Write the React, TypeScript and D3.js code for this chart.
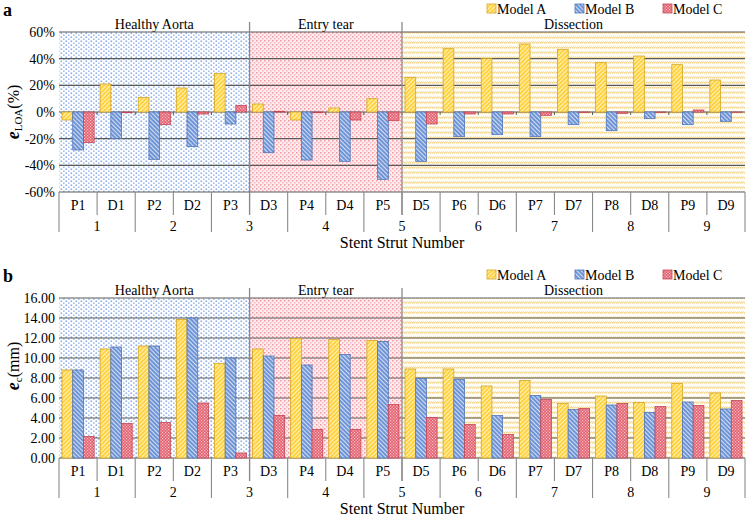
import * as d3 from "d3";

// stent struts, pairs belong to one stent number
const categories = ["P1", "D1", "P2", "D2", "P3", "D3", "P4", "D4", "P5", "D5", "P6", "D6", "P7", "D7", "P8", "D8", "P9", "D9"];
const groupLabels = ["1", "2", "3", "4", "5", "6", "7", "8", "9"];
const sectionNames = ["Healthy Aorta", "Entry tear", "Dissection"];
const sectionSizes = [5, 4, 9];
const modelNames = ["Model A", "Model B", "Model C"];

// panel a : e_LOA (%)
const loaA = [-6, 21, 11, 18, 29, 6, -6, 3, 10, 26, 47.5, 40, 51, 47, 37, 42, 35.5, 24];
const loaB = [-28.5, -20, -35.5, -26, -9, -30.5, -36, -37, -50.5, -37, -18.5, -17, -18.5, -9.5, -14, -5, -9.5, -7];
const loaC = [-23, -0.5, -9.5, -1.5, 5, 0.5, -0.5, -6, -6.5, -9, -1.5, -1.5, -2.5, -0.3, -1, -0.3, 1.5, -0.2];
const loaTicks = [-60, -40, -20, 0, 20, 40, 60];

// panel b : e_c (mm)
const ecA = [8.8, 10.9, 11.2, 13.85, 9.45, 10.9, 11.95, 11.85, 11.75, 8.9, 8.9, 7.2, 7.75, 5.45, 6.2, 5.55, 7.45, 6.5];
const ecB = [8.8, 11.1, 11.2, 14.0, 10.0, 10.2, 9.3, 10.35, 11.65, 7.95, 7.85, 4.25, 6.25, 4.85, 5.3, 4.55, 5.6, 4.9];
const ecC = [2.15, 3.45, 3.55, 5.5, 0.5, 4.25, 2.85, 2.85, 5.35, 4.05, 3.35, 2.35, 5.85, 4.95, 5.45, 5.15, 5.25, 5.75];
const ecTicks = [0, 2, 4, 6, 8, 10, 12, 14, 16];

const FONT = "Liberation Serif, Times New Roman, serif";
const LEFT = 59;
const RIGHT = 745;
const barFills = ["url(#barA)", "url(#barB)", "url(#barC)"];
const barStrokes = ["#d4a623", "#5075b8", "#c44656"];
const sectionFills = ["url(#bgBlue)", "url(#bgPink)", "url(#bgYellow)"];
const legendX = [487, 575, 663];

type PanelProps = {
  top: number;
  series: number[][];
  ticks: number[];
  fmt: (v: number) => string;
  letter: string;
  labelSub: string;
  labelUnit: string;
  labelY: number;
};

function Panel({ top, series, ticks, fmt, letter, labelSub, labelUnit, labelY }: PanelProps) {
  const bottom = top + 160;
  const x = d3.scaleBand<string>().domain(categories).range([LEFT, RIGHT]);
  const step = x.step();
  const inner = d3.scaleBand<string>().domain(modelNames).range([0, x.bandwidth()]).paddingOuter(0.28);
  const y = d3.scaleLinear().domain(d3.extent(ticks) as [number, number]).range([bottom, top]);
  const zero = y(Math.max(0, ticks[0]));

  // section start indices
  const starts = sectionSizes.map((_, i) => d3.sum(sectionSizes.slice(0, i)));

  return (
    <g fontFamily={FONT}>
      <text x={3} y={top - 16} fontSize={18} fontWeight="bold">{letter}</text>

      {/* section backgrounds */}
      {sectionNames.map((name, i) => {
        const x0 = x(categories[starts[i]])!;
        const w = sectionSizes[i] * step;
        return (
          <g key={name}>
            <rect x={x0} y={top} width={w} height={bottom - top} fill={sectionFills[i]} />
            <text x={x0 + w / 2} y={top - 3} textAnchor="middle" fontSize={14}>{name}</text>
          </g>
        );
      })}

      {/* grid */}
      {ticks.map((t) => (
        <g key={t}>
          <line x1={LEFT} x2={RIGHT} y1={y(t)} y2={y(t)} stroke="#5a5a5a" strokeWidth={1.1} />
          <text x={55} y={y(t) + 5} textAnchor="end" fontSize={14}>{fmt(t)}</text>
        </g>
      ))}

      {/* small ticks on zero line */}
      {zero < bottom && categories.map((c, i) => (i > 0 ? (
        <line key={c} x1={x(c)} x2={x(c)} y1={zero} y2={zero + 3} stroke="#5a5a5a" />
      ) : null))}

      {/* bars */}
      {series.map((vals, s) => (
        <g key={s}>
          {vals.map((v, i) => (
            <rect
              key={i}
              x={x(categories[i])! + inner(modelNames[s])!}
              y={Math.min(y(v), zero)}
              width={inner.bandwidth()}
              height={Math.abs(y(v) - zero)}
              fill={barFills[s]}
              stroke={barStrokes[s]}
              strokeWidth={0.8}
            />
          ))}
        </g>
      ))}

      {/* section dividers */}
      {starts.slice(1).map((st) => (
        <line key={st} x1={x(categories[st])} x2={x(categories[st])} y1={top - 10} y2={bottom + 23} stroke="#8a8a8a" strokeWidth={1.3} />
      ))}

      {/* multi level category axis */}
      {d3.range(categories.length + 1).map((i) => {
        const bx = LEFT + i * step;
        return <line key={i} x1={bx} x2={bx} y1={bottom} y2={bottom + (i % 2 === 0 ? 40 : 23)} stroke="#8a8a8a" strokeWidth={1.1} />;
      })}
      {categories.map((c) => (
        <text key={c} x={x(c)! + step / 2} y={bottom + 18} textAnchor="middle" fontSize={14}>{c}</text>
      ))}
      {groupLabels.map((g, i) => (
        <text key={g} x={LEFT + (2 * i + 1) * step} y={bottom + 39} textAnchor="middle" fontSize={14}>{g}</text>
      ))}
      <text x={402} y={bottom + 56} textAnchor="middle" fontSize={16}>Stent Strut Number</text>

      {/* y label */}
      <text transform={`translate(19,${labelY}) rotate(-90)`} textAnchor="middle" fontSize={16}>
        <tspan fontWeight="bold" fontStyle="italic" fontSize={18}>e</tspan>
        <tspan fontSize={11} dy={3}>{labelSub}</tspan>
        <tspan dy={-3}>{labelUnit}</tspan>
      </text>

      {/* legend */}
      {modelNames.map((m, i) => (
        <g key={m}>
          <rect x={legendX[i]} y={top - 28} width={9} height={9} fill={barFills[i]} stroke={barStrokes[i]} strokeWidth={0.8} />
          <text x={legendX[i] + 10} y={top - 18} fontSize={14}>{m}</text>
        </g>
      ))}
    </g>
  );
}

export default function App() {
  return (
    <svg width={749} height={516} style={{ position: "absolute", left: 0, top: 0, background: "#fff" }}>
      <defs>
        <pattern id="bgBlue" width={5} height={4} patternUnits="userSpaceOnUse">
          <rect width={5} height={4} fill="#fff" />
          <rect x={0.5} y={0.5} width={1.6} height={1.4} fill="#7fa3e3" />
          <rect x={3} y={2.5} width={1.6} height={1.4} fill="#9cb9ec" />
        </pattern>
        <pattern id="bgPink" width={4} height={4} patternUnits="userSpaceOnUse">
          <rect width={4} height={4} fill="#fdedef" />
          <rect x={0} y={0} width={1.5} height={1.5} fill="#f095a2" />
          <rect x={2} y={2} width={1.5} height={1.5} fill="#f5b3bc" />
        </pattern>
        <pattern id="bgYellow" width={4} height={5} patternUnits="userSpaceOnUse">
          <rect width={4} height={5} fill="#fffdf4" />
          <path d="M0,3.6 L1.6,1.6 M2,3.6 L3.6,1.6" stroke="#edc158" strokeWidth={1} />
        </pattern>
        <pattern id="barA" width={3} height={3} patternUnits="userSpaceOnUse" patternTransform="rotate(45)">
          <rect width={3} height={3} fill="#ffd23f" />
          <rect width={1} height={3} fill="#fff2bf" />
        </pattern>
        <pattern id="barB" width={3} height={3} patternUnits="userSpaceOnUse" patternTransform="rotate(-45)">
          <rect width={3} height={3} fill="#6f95d6" />
          <rect width={1} height={3} fill="#d3def3" />
        </pattern>
        <pattern id="barC" width={3} height={3} patternUnits="userSpaceOnUse">
          <rect width={3} height={3} fill="#e3606f" />
          <rect width={1.2} height={1.2} fill="#f8c2c8" />
          <rect x={1.5} y={1.5} width={1.2} height={1.2} fill="#f8c2c8" />
        </pattern>
      </defs>
      <Panel top={32} series={[loaA, loaB, loaC]} ticks={loaTicks} fmt={(v) => `${v}%`} letter="a" labelSub="LOA" labelUnit="(%)" labelY={112} />
      <Panel top={298} series={[ecA, ecB, ecC]} ticks={ecTicks} fmt={(v) => v.toFixed(2)} letter="b" labelSub="c" labelUnit="(mm)" labelY={366} />
    </svg>
  );
}
